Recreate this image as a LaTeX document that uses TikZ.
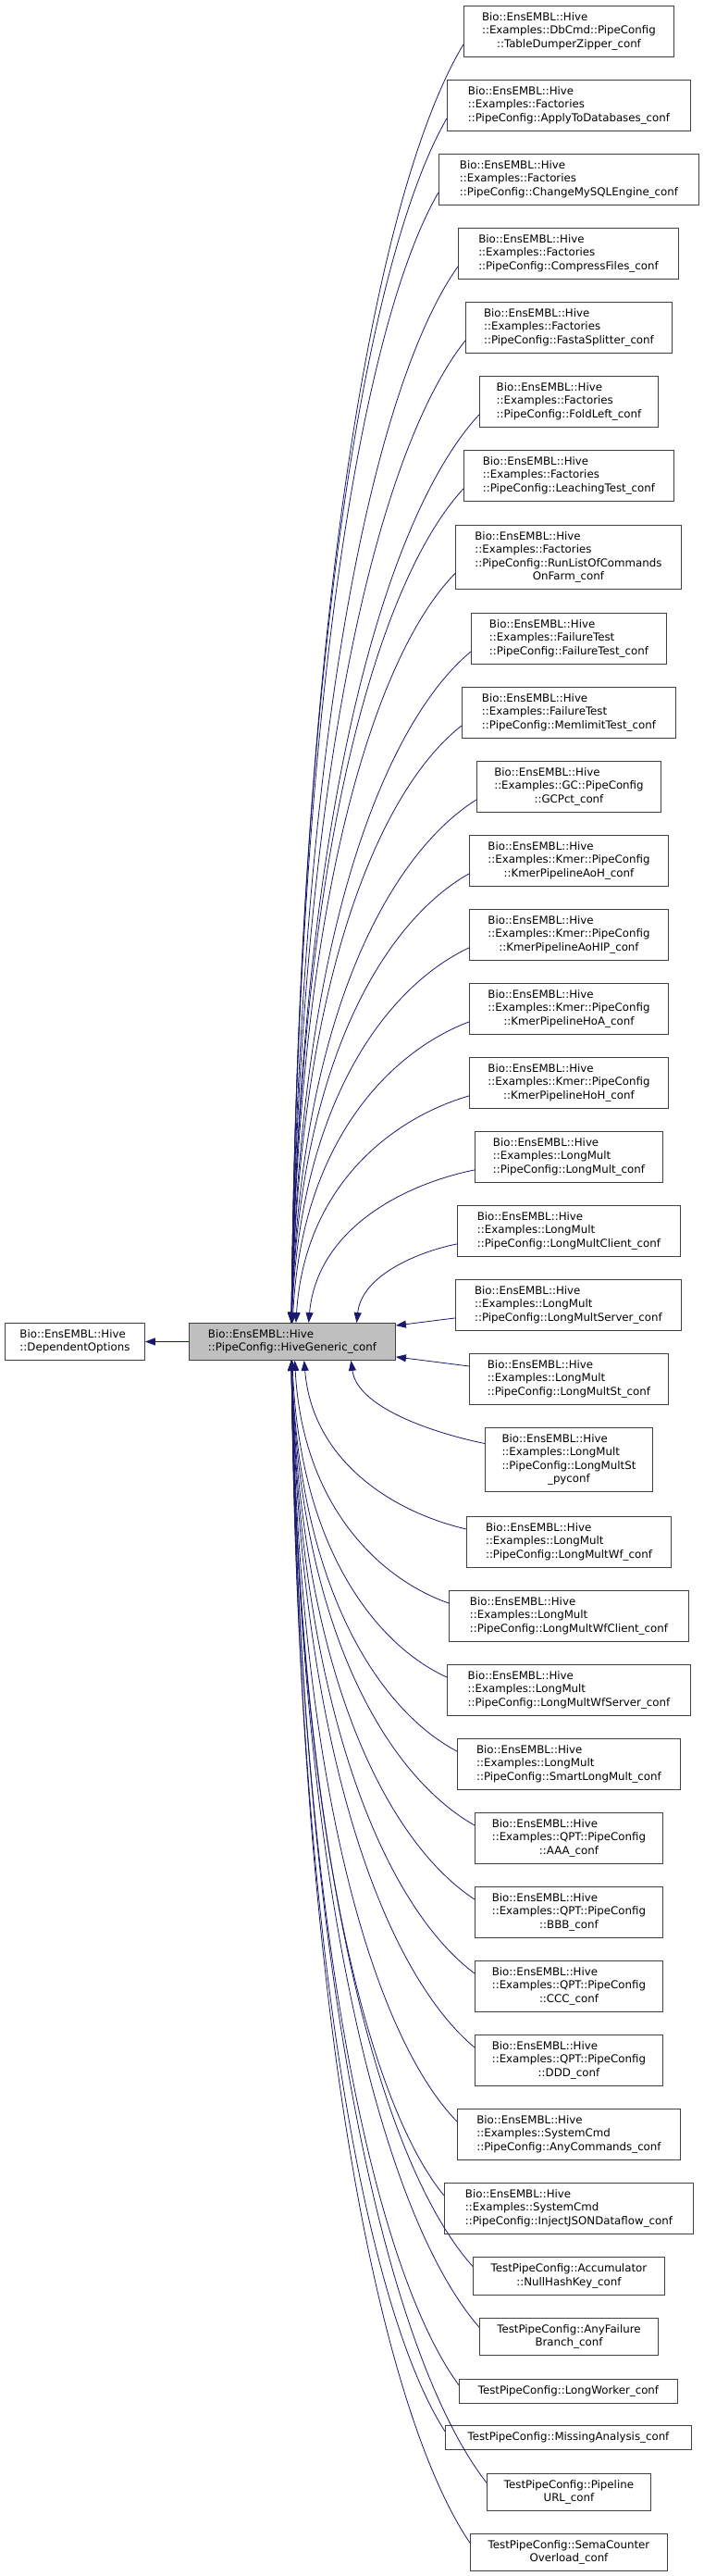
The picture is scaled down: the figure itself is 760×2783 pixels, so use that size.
\documentclass[tikz,border=0pt]{standalone}
\usepackage{fontspec}
\setmainfont{DejaVu Sans}
\usetikzlibrary{arrows.meta,calc}
\definecolor{edgec}{HTML}{191970}
\tikzset{
 box/.style={draw=black!75,line width=0.9pt,fill=white,inner sep=0pt,font=\fontsize{11.8}{14.4}\selectfont},
 edge/.style={draw=edgec,line width=0.8pt,-{Triangle[length=11pt,width=8pt]}},
}
\newcommand\kid[6]{% id top h xl xr text
 \node[box,anchor=north west,minimum width={#5-#4},minimum height=#3] (#1) at (#4,#2)
 {\begin{tabular}{@{}l@{}}#6\end{tabular}};}
\newcommand\lc[1]{\multicolumn{1}{@{}c@{}}{#1}}
\newcommand\upe[1]{% id
 \path let \p2=(#1.north west), \p3=(#1.south west) in
 \pgfextra{\pgfmathsetmacro\ys{-\y2/1pt*0.25-\y3/1pt*0.75}\xdef\ys{\ys}
 \pgfmathsetmacro\xl{\x2/1pt}\xdef\xl{\xl}};
 \pgfmathsetmacro\dd{1429-\ys}
 \pgfmathsetmacro\tx{315+55*exp(-(\dd-100)/60)}
 \pgfmathsetmacro\ax{\xl-min(0.45*(\xl-\tx),0.5*\dd)}\pgfmathsetmacro\ay{\ys+0.1*\dd}
 \pgfmathsetmacro\bx{\tx+0.05*(\xl-\tx)}\pgfmathsetmacro\by{1429-0.6*\dd}
 \draw[edge] ($(#1.north west)!0.75!(#1.south west)$) .. controls (\ax,\ay) and (\bx,\by) .. ($(hg.north west)+(\tx-204,0)$);}
\newcommand\dne[1]{% id
 \path let \p2=(#1.north west), \p3=(#1.south west) in
 \pgfextra{\pgfmathsetmacro\ys{-\y2/1pt*0.75-\y3/1pt*0.25}\xdef\ys{\ys}
 \pgfmathsetmacro\xl{\x2/1pt}\xdef\xl{\xl}};
 \pgfmathsetmacro\dd{\ys-1469}
 \pgfmathsetmacro\tx{315+55*exp(-(\dd-100)/60)}
 \pgfmathsetmacro\ax{\xl-min(0.45*(\xl-\tx),0.5*\dd)}\pgfmathsetmacro\ay{\ys-0.1*\dd}
 \pgfmathsetmacro\bx{\tx+0.05*(\xl-\tx)}\pgfmathsetmacro\by{1469+0.6*\dd}
 \draw[edge] ($(#1.north west)!0.25!(#1.south west)$) .. controls (\ax,\ay) and (\bx,\by) .. ($(hg.south west)+(\tx-204,0)$);}
\begin{document}
\begin{tikzpicture}[x=1pt,y=-1pt]
\useasboundingbox (0,0) rectangle (760,2783);
\fill[white] (0,0) rectangle (760,2783);
\node[box,anchor=north west,minimum width=151,minimum height=40] (dep) at (5,1429)
 {\begin{tabular}{@{}l@{}}Bio::EnsEMBL::Hive\\::DependentOptions\end{tabular}};
\node[box,anchor=north west,minimum width=223,minimum height=40,fill=black!25] (hg) at (204,1429)
 {\begin{tabular}{@{}l@{}}Bio::EnsEMBL::Hive\\::PipeConfig::HiveGeneric\_conf\end{tabular}};
\draw[edge] (hg) -- (dep);
\kid{c1}{6}{55}{501}{728}{Bio::EnsEMBL::Hive\\::Examples::DbCmd::PipeConfig\\\lc{::TableDumperZipper\_conf}}
\kid{c2}{86}{55}{483}{746}{Bio::EnsEMBL::Hive\\::Examples::Factories\\::PipeConfig::ApplyToDatabases\_conf}
\kid{c3}{166}{55}{474}{755}{Bio::EnsEMBL::Hive\\::Examples::Factories\\::PipeConfig::ChangeMySQLEngine\_conf}
\kid{c4}{246}{55}{495}{733}{Bio::EnsEMBL::Hive\\::Examples::Factories\\::PipeConfig::CompressFiles\_conf}
\kid{c5}{326}{55}{503}{726}{Bio::EnsEMBL::Hive\\::Examples::Factories\\::PipeConfig::FastaSplitter\_conf}
\kid{c6}{406}{55}{518}{711}{Bio::EnsEMBL::Hive\\::Examples::Factories\\::PipeConfig::FoldLeft\_conf}
\kid{c7}{486}{55}{501}{728}{Bio::EnsEMBL::Hive\\::Examples::Factories\\::PipeConfig::LeachingTest\_conf}
\kid{c8}{567}{69}{492}{736}{Bio::EnsEMBL::Hive\\::Examples::Factories\\::PipeConfig::RunListOfCommands\\\lc{OnFarm\_conf}}
\kid{c9}{662}{55}{509}{720}{Bio::EnsEMBL::Hive\\::Examples::FailureTest\\::PipeConfig::FailureTest\_conf}
\kid{c10}{742}{55}{499}{730}{Bio::EnsEMBL::Hive\\::Examples::FailureTest\\::PipeConfig::MemlimitTest\_conf}
\kid{c11}{822}{55}{515}{714}{Bio::EnsEMBL::Hive\\::Examples::GC::PipeConfig\\\lc{::GCPct\_conf}}
\kid{c12}{902}{55}{507}{722}{Bio::EnsEMBL::Hive\\::Examples::Kmer::PipeConfig\\\lc{::KmerPipelineAoH\_conf}}
\kid{c13}{982}{55}{507}{722}{Bio::EnsEMBL::Hive\\::Examples::Kmer::PipeConfig\\\lc{::KmerPipelineAoHIP\_conf}}
\kid{c14}{1062}{55}{507}{722}{Bio::EnsEMBL::Hive\\::Examples::Kmer::PipeConfig\\\lc{::KmerPipelineHoA\_conf}}
\kid{c15}{1142}{55}{507}{722}{Bio::EnsEMBL::Hive\\::Examples::Kmer::PipeConfig\\\lc{::KmerPipelineHoH\_conf}}
\kid{c16}{1222}{55}{513}{716}{Bio::EnsEMBL::Hive\\::Examples::LongMult\\::PipeConfig::LongMult\_conf}
\kid{c17}{1302}{55}{494}{735}{Bio::EnsEMBL::Hive\\::Examples::LongMult\\::PipeConfig::LongMultClient\_conf}
\kid{c18}{1382}{55}{492}{736}{Bio::EnsEMBL::Hive\\::Examples::LongMult\\::PipeConfig::LongMultServer\_conf}
\kid{c19}{1462}{55}{507}{722}{Bio::EnsEMBL::Hive\\::Examples::LongMult\\::PipeConfig::LongMultSt\_conf}
\kid{c20}{1542}{69}{524}{705}{Bio::EnsEMBL::Hive\\::Examples::LongMult\\::PipeConfig::LongMultSt\\\lc{\_pyconf}}
\kid{c21}{1638}{55}{504}{725}{Bio::EnsEMBL::Hive\\::Examples::LongMult\\::PipeConfig::LongMultWf\_conf}
\kid{c22}{1718}{55}{485}{744}{Bio::EnsEMBL::Hive\\::Examples::LongMult\\::PipeConfig::LongMultWfClient\_conf}
\kid{c23}{1798}{55}{483}{746}{Bio::EnsEMBL::Hive\\::Examples::LongMult\\::PipeConfig::LongMultWfServer\_conf}
\kid{c24}{1878}{55}{494}{735}{Bio::EnsEMBL::Hive\\::Examples::LongMult\\::PipeConfig::SmartLongMult\_conf}
\kid{c25}{1958}{55}{513}{716}{Bio::EnsEMBL::Hive\\::Examples::QPT::PipeConfig\\\lc{::AAA\_conf}}
\kid{c26}{2038}{55}{513}{716}{Bio::EnsEMBL::Hive\\::Examples::QPT::PipeConfig\\\lc{::BBB\_conf}}
\kid{c27}{2118}{55}{513}{716}{Bio::EnsEMBL::Hive\\::Examples::QPT::PipeConfig\\\lc{::CCC\_conf}}
\kid{c28}{2198}{55}{513}{716}{Bio::EnsEMBL::Hive\\::Examples::QPT::PipeConfig\\\lc{::DDD\_conf}}
\kid{c29}{2278}{55}{494}{735}{Bio::EnsEMBL::Hive\\::Examples::SystemCmd\\::PipeConfig::AnyCommands\_conf}
\kid{c30}{2358}{55}{480}{749}{Bio::EnsEMBL::Hive\\::Examples::SystemCmd\\::PipeConfig::InjectJSONDataflow\_conf}
\kid{c31}{2438}{41}{511}{718}{TestPipeConfig::Accumulator\\\lc{::NullHashKey\_conf}}
\kid{c32}{2504}{40}{518}{711}{TestPipeConfig::AnyFailure\\\lc{Branch\_conf}}
\kid{c33}{2570}{26}{496}{732}{TestPipeConfig::LongWorker\_conf}
\kid{c34}{2620}{26}{481}{747}{TestPipeConfig::MissingAnalysis\_conf}
\kid{c35}{2672}{40}{526}{703}{TestPipeConfig::Pipeline\\\lc{URL\_conf}}
\kid{c36}{2737}{40}{508}{721}{TestPipeConfig::SemaCounter\\\lc{Overload\_conf}}
\foreach \i in {1,...,17}{\upe{c\i}}
\foreach \i in {20,...,36}{\dne{c\i}}
\draw[edge] ($(c18.north west)!0.75!(c18.south west)$) -- ($(hg.north east)+(0,3)$);
\draw[edge] ($(c19.north west)!0.25!(c19.south west)$) -- ($(hg.south east)+(0,-4)$);
\end{tikzpicture}
\end{document}
